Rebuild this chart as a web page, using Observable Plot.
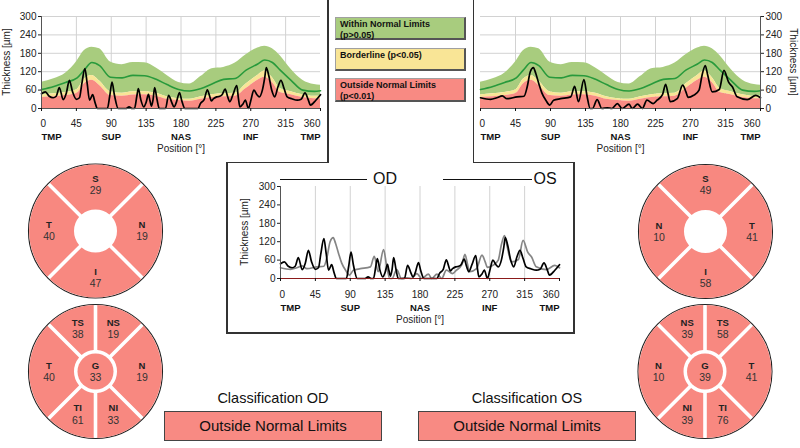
<!DOCTYPE html>
<html><head><meta charset="utf-8">
<script src="https://cdn.jsdelivr.net/npm/d3@7"></script>
<script src="https://cdn.jsdelivr.net/npm/@observablehq/plot@0.6"></script>
<style>
body{margin:0;background:#fff;}
#root{position:relative;width:800px;height:448px;overflow:hidden;background:#fff;font-family:"Liberation Sans",Arial,sans-serif;color:#111;}
.ln{position:absolute;background:#333;}
.leg{position:absolute;left:335px;width:131px;font-weight:bold;font-size:9px;line-height:11px;padding:1px 0 0 4px;box-sizing:border-box;border:1px solid #a0a0a0;border-right:2px solid #555;border-bottom:2px solid #555;color:#111;}
.cls{position:absolute;width:218px;height:30px;box-sizing:border-box;border:1px solid #444;background:#f88a83;font-size:15px;line-height:28px;text-align:center;color:#111;}
.clt{position:absolute;width:218px;text-align:center;font-size:14.5px;color:#111;}
.ylab{position:absolute;width:90px;height:12px;line-height:12px;font-size:10px;text-align:center;color:#222;white-space:nowrap;}
</style></head><body><div id="root"></div><script>
// ---------- data ----------
const yTicks = [0, 60, 120, 180, 240, 300];
const xTicks = [0, 45, 90, 135, 180, 225, 270, 315, 360];
const regionAngles = [0, 90, 180, 270, 360];
const regionLabels = ["TMP", "SUP", "NAS", "INF", "TMP"];

// normative database percentiles
const normAngle = [0,16,31,46,55,65,75,89,104,118,133,148,162,177,191,206,220,235,250,264,279,288,298,308,322,337,352,360];
const normP95  = [86,97,115,155,188,200,195,152,143,150,149,132,108,85,80,105,130,134,148,175,197,203,195,172,128,92,78,76];
const normMean = [62,72,85,100,125,150,140,102,100,108,107,95,78,62,57,65,80,95,98,125,145,158,150,125,92,60,56,58];
const normP5   = [44,48,52,62,95,108,90,55,50,55,55,50,38,32,30,38,45,48,50,80,108,122,100,65,55,45,40,40];
const normP1   = [36,38,42,50,80,92,75,42,40,44,45,40,30,26,24,30,36,38,40,65,92,102,85,52,45,36,32,32];

// OD (right eye) RNFL profile
const odAngle = [0,5,10,15,19,23,28,32,36,40,45,49,52,56,59,62,66,69,72,85,88,91,94,99,109,113,117,120,123,125,128,132,135,138,140,142,144,146,149,152,160,164,168,171,174,178,181,185,202,205,210,214,217,219,222,226,230,233,237,240,243,247,252,254,256,260,263,267,270,274,278,281,285,288,290,293,297,301,305,309,313,317,323,330,335,340,344,347,354,360];
const odThick = [48,54,40,35,40,68,29,50,92,55,30,35,80,130,80,27,45,20,0,0,40,86,45,0,0,5,0,0,40,65,30,5,20,46,25,8,30,68,30,0,0,43,20,5,20,52,25,0,0,16,30,61,40,25,32,38,40,45,63,40,22,45,75,35,5,15,27,0,25,60,45,38,60,100,133,110,60,38,70,92,65,38,32,27,30,51,30,11,27,45];

// OS (left eye) RNFL profile
const osAngle = [0,13,21,28,34,47,56,60,64,68,71,75,79,84,89,94,103,116,121,126,133,137,141,144,150,156,163,169,176,182,191,195,202,208,214,222,227,234,238,241,244,253,260,264,267,274,281,285,289,292,298,307,313,319,324,330,343,354,360];
const osThick = [35,30,35,41,32,38,40,70,120,133,115,81,50,27,11,27,32,38,72,22,94,40,0,0,29,0,2,0,16,0,14,0,14,0,27,16,27,45,79,50,22,32,76,55,36,43,60,110,140,110,54,62,124,86,70,38,29,43,35];

// sector averages (clockwise from top)
const odQuadLabels = ["S", "N", "I", "T"];
const odQuadValues = [29, 19, 47, 40];
const osQuadLabels = ["S", "T", "I", "N"];
const osQuadValues = [49, 41, 58, 10];
const odSectLabels = ["NS", "N", "NI", "TI", "T", "TS"];
const odSectValues = [19, 19, 33, 61, 40, 38];
const osSectLabels = ["TS", "T", "TI", "NI", "N", "NS"];
const osSectValues = [58, 41, 76, 39, 10, 39];
const odGlobal = 33;
const osGlobal = 39;

const legendLabels = [["Within Normal Limits", "(p>0.05)"], ["Borderline (p<0.05)"], ["Outside Normal Limits", "(p<0.01)"]];
const classOD = "Outside Normal Limits";
const classOS = "Outside Normal Limits";

// ---------- styles ----------
const GREEN = "#a8cc7e", YELLOW = "#f9e596", RED = "#f88c84", SALMON = "#f88880", GLINE = "#289a3c";
const FONT = '"Liberation Sans", Arial, sans-serif';
const root = document.getElementById("root");

function place(el, left, top) {
  el.style.position = "absolute";
  el.style.left = left + "px";
  el.style.top = top + "px";
  root.appendChild(el);
}
function div(cls, css, html) {
  const d = document.createElement("div");
  if (cls) d.className = cls;
  Object.assign(d.style, css);
  if (html != null) d.innerHTML = html;
  root.appendChild(d);
  return d;
}
function yLabel(cx, cy, rot) {
  div("ylab", {left: (cx - 45) + "px", top: (cy - 6) + "px", transform: `rotate(${rot}deg)`}, "Thickness [µm]");
}

function tickTexts(dy, size) {
  const mid = xTicks.slice(1, -1);
  return [
    Plot.text([xTicks[0]], {x: d => d, y: 0, dy, text: d => String(d), textAnchor: "start", dx: -1, fontSize: size, fill: "#222"}),
    Plot.text(mid, {x: d => d, y: 0, dy, text: d => String(d), fontSize: size, fill: "#222"}),
    Plot.text([xTicks[xTicks.length - 1]], {x: d => d, y: 0, dy, text: d => String(d), textAnchor: "end", fontSize: size, fill: "#222"})
  ];
}
function regionTexts(dy) {
  const idx = regionAngles.map((a, i) => i);
  return [
    Plot.text([0], {x: i => regionAngles[i], y: 0, dy, text: i => regionLabels[i], textAnchor: "start", fontWeight: "bold", fontSize: 9.5, fill: "#111"}),
    Plot.text(idx.slice(1, -1), {x: i => regionAngles[i], y: 0, dy, text: i => regionLabels[i], fontWeight: "bold", fontSize: 9.5, fill: "#111"}),
    Plot.text([idx.length - 1], {x: i => regionAngles[i], y: 0, dy, text: i => regionLabels[i], textAnchor: "end", fontWeight: "bold", fontSize: 9.5, fill: "#111"})
  ];
}

function profileChart(angles, thick, side) {
  const right = side === "right";
  const norm = normAngle.map((a, i) => ({a, p1: normP1[i], p5: normP5[i], mean: normMean[i], p95: normP95[i]}));
  const prof = angles.map((a, i) => ({a, t: thick[i]}));
  const curve = "monotone-x";
  return Plot.plot({
    width: 330, height: 160,
    marginLeft: right ? 10 : 41, marginRight: right ? 40 : 10, marginTop: 16, marginBottom: 52,
    x: {domain: [0, 360], axis: null},
    y: {domain: [0, 300], axis: null},
    style: {fontFamily: FONT, background: "transparent", overflow: "visible"},
    marks: [
      Plot.gridY(yTicks, {stroke: "#d2d2d2", strokeOpacity: 1}),
      Plot.gridX(xTicks.slice(1, -1), {stroke: "#d2d2d2", strokeOpacity: 1}),
      Plot.areaY(norm, {x: "a", y1: "p5", y2: "p95", fill: GREEN, curve}),
      Plot.areaY(norm, {x: "a", y1: "p1", y2: "p5", fill: YELLOW, curve}),
      Plot.areaY(norm, {x: "a", y1: 0, y2: "p1", fill: RED, curve}),
      Plot.line(norm, {x: "a", y: "mean", stroke: GLINE, strokeWidth: 1.6, curve}),
      Plot.line(prof, {x: "a", y: "t", stroke: "#000", strokeWidth: 1.7, curve}),
      Plot.ruleY([0], {stroke: "#555"}),
      Plot.ruleX([right ? 360 : 0], {stroke: "#555"}),
      Plot.axisY(yTicks, {anchor: right ? "right" : "left", tickSize: 3, tickPadding: 2, fontSize: 10, label: null, color: "#222"}),
      Plot.axisX(xTicks, {anchor: "bottom", tickSize: 3, tickFormat: () => "", label: null}),
      ...tickTexts(15, 10),
      ...regionTexts(28),
      Plot.text(["Position [°]"], {frameAnchor: "bottom", dy: 43, text: d => d, fontSize: 10, fill: "#222"})
    ]
  });
}

function compareChart() {
  const od = odAngle.map((a, i) => ({a, t: odThick[i]}));
  const os = osAngle.map((a, i) => ({a, t: osThick[i]}));
  const curve = "monotone-x";
  return Plot.plot({
    width: 348, height: 171,
    marginLeft: 54, marginRight: 15, marginTop: 24, marginBottom: 55,
    x: {domain: [0, 360], axis: null},
    y: {domain: [0, 300], axis: null},
    style: {fontFamily: FONT, background: "transparent", overflow: "visible"},
    marks: [
      Plot.gridX(xTicks.slice(1, -1), {stroke: "#d2d2d2", strokeOpacity: 1}),
      Plot.line(os, {x: "a", y: "t", stroke: "#858585", strokeWidth: 1.7, curve}),
      Plot.line(od, {x: "a", y: "t", stroke: "#000", strokeWidth: 1.7, curve}),
      Plot.ruleY([0], {stroke: "#8b1a1a", strokeWidth: 1.2}),
      Plot.ruleX([0], {stroke: "#555"}),
      Plot.axisY(yTicks, {anchor: "left", tickSize: 3, tickPadding: 2, fontSize: 10, label: null, color: "#222"}),
      Plot.axisX(xTicks, {anchor: "bottom", tickSize: 3, tickFormat: () => "", label: null}),
      ...tickTexts(16, 10),
      ...regionTexts(29),
      Plot.text(["Position [°]"], {frameAnchor: "bottom", dy: 44, text: d => d, fontSize: 10, fill: "#222"})
    ]
  });
}

// ---------- frames ----------
div("ln", {left: "327px", top: "0px", width: "1.5px", height: "163px"});
div("ln", {left: "226px", top: "161.5px", width: "102px", height: "1.5px"});
div("ln", {left: "472.5px", top: "0px", width: "1.5px", height: "163px"});
div("ln", {left: "472.5px", top: "161.5px", width: "102px", height: "1.5px"});
div("ln", {left: "226px", top: "161.5px", width: "1.5px", height: "172px"});
div("ln", {left: "573px", top: "161.5px", width: "1.5px", height: "172px"});
div("ln", {left: "226px", top: "332px", width: "348.5px", height: "1.5px"});

// ---------- charts ----------
place(profileChart(odAngle, odThick, "left"), 0, 0);
place(profileChart(osAngle, osThick, "right"), 470, 0);
place(compareChart(), 226, 162);
yLabel(7, 62, -90);
yLabel(793, 62, 90);
yLabel(245, 232, -90);

// center legend
div("ln", {left: "280px", top: "178.5px", width: "87px", height: "1.5px", background: "#111"});
div(null, {position: "absolute", left: "369px", top: "169px", width: "32px", textAlign: "center", fontSize: "16px", lineHeight: "20px"}, "OD");
div("ln", {left: "443px", top: "178.5px", width: "89px", height: "1.5px", background: "#111"});
div(null, {position: "absolute", left: "529px", top: "169px", width: "32px", textAlign: "center", fontSize: "16px", lineHeight: "20px"}, "OS");

// top legend
const legTops = [17, 48, 78], legH = [23, 23, 24], legCols = [GREEN, YELLOW, "#f88a83"];
legendLabels.forEach((lines, i) => {
  div("leg", {top: legTops[i] + "px", height: legH[i] + "px", background: legCols[i]}, lines.join("<br>"));
});

// classification
div("clt", {left: "164px", top: "390px"}, "Classification OD");
div("cls", {left: "164px", top: "411px"}, classOD);
div("clt", {left: "418px", top: "390px"}, "Classification OS");
div("cls", {left: "418px", top: "411px"}, classOS);

// ---------- sector circles ----------
const svg = d3.select(root).append("svg")
  .attr("width", 800).attr("height", 448)
  .style("position", "absolute").style("left", "0px").style("top", "0px")
  .style("pointer-events", "none")
  .style("font-family", FONT);

const quadSpans = [[-45, 45], [45, 135], [135, 225], [225, 315]];
const sectSpans = [[0, 45], [45, 135], [135, 180], [180, 225], [225, 315], [315, 360]];

function sectorChart(cx, cy, labels, values, spans, globalVal) {
  const R = 67, inner = 21.5;
  const g = svg.append("g").attr("transform", `translate(${cx},${cy})`);
  g.append("circle").attr("r", R).attr("fill", "#fff").attr("stroke", "#222").attr("stroke-width", 1.1);
  const arc = d3.arc().innerRadius(inner).outerRadius(R - 0.6).padAngle(3.6 / R).padRadius(R);
  labels.forEach((lab, i) => {
    const a0 = spans[i][0] * Math.PI / 180, a1 = spans[i][1] * Math.PI / 180;
    g.append("path").attr("d", arc({startAngle: a0, endAngle: a1})).attr("fill", SALMON);
    const mid = (a0 + a1) / 2, r = 46.5;
    const x = r * Math.sin(mid), y = -r * Math.cos(mid);
    g.append("text").attr("x", x).attr("y", y - 5.5).attr("text-anchor", "middle").attr("dominant-baseline", "middle")
      .attr("font-weight", "bold").attr("font-size", 9.5).attr("fill", "#222").text(lab);
    g.append("text").attr("x", x).attr("y", y + 6.5).attr("text-anchor", "middle").attr("dominant-baseline", "middle")
      .attr("font-size", 10.5).attr("fill", "#333").text(values[i]);
  });
  if (globalVal != null) {
    g.append("circle").attr("r", 18).attr("fill", SALMON);
    g.append("text").attr("y", -5).attr("text-anchor", "middle").attr("dominant-baseline", "middle")
      .attr("font-weight", "bold").attr("font-size", 9.5).attr("fill", "#222").text("G");
    g.append("text").attr("y", 6.5).attr("text-anchor", "middle").attr("dominant-baseline", "middle")
      .attr("font-size", 10.5).attr("fill", "#333").text(globalVal);
  }
}
sectorChart(95.5, 231, odQuadLabels, odQuadValues, quadSpans, null);
sectorChart(95.5, 371.5, odSectLabels, odSectValues, sectSpans, odGlobal);
sectorChart(705.5, 231.5, osQuadLabels, osQuadValues, quadSpans, null);
sectorChart(705, 371.5, osSectLabels, osSectValues, sectSpans, osGlobal);
</script></body></html>
